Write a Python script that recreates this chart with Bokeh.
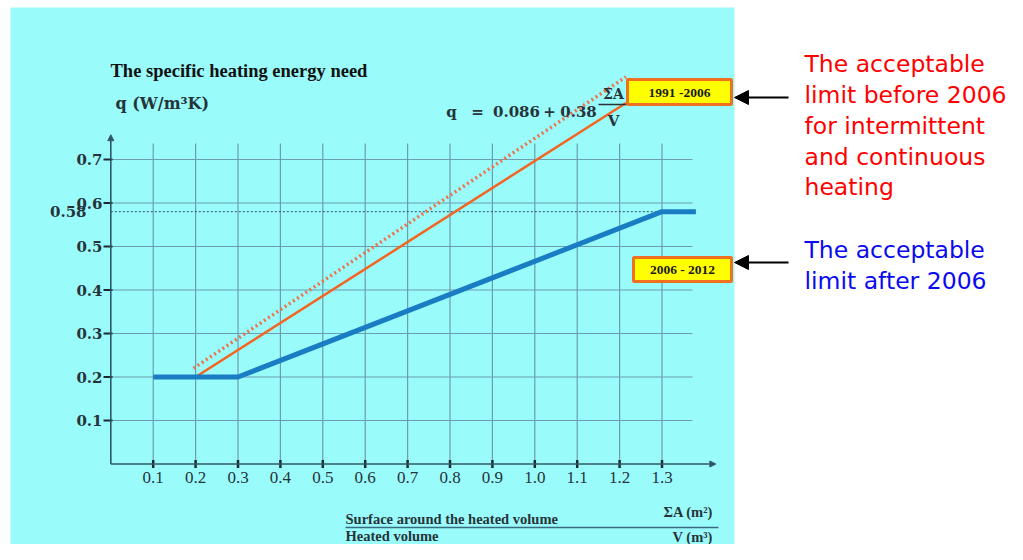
from bokeh.plotting import figure
from bokeh.models import Range1d, Arrow, NormalHead
from bokeh.core.properties import value
from bokeh.embed import file_html
from bokeh.resources import INLINE

# ---------------- data ----------------
x_ticks = [0.1, 0.2, 0.3, 0.4, 0.5, 0.6, 0.7, 0.8, 0.9, 1.0, 1.1, 1.2, 1.3]
x_tick_labels = ["0.1", "0.2", "0.3", "0.4", "0.5", "0.6", "0.7", "0.8", "0.9",
                 "1.0", "1.1", "1.2", "1.3"]
y_ticks = [0.1, 0.2, 0.3, 0.4, 0.5, 0.6, 0.7]
y_tick_labels = ["0.1", "0.2", "0.3", "0.4", "0.5", "0.6", "0.7"]

# limit 1991-2006 (solid and dotted orange lines)
before_x = [0.2, 1.215]
before_y = [0.2, 0.83]
before_dotted_x = [0.195, 1.215]
before_dotted_y = [0.22, 0.89]

# limit 2006-2012 (blue line)
after_x = [0.1, 0.3, 1.3, 1.38]
after_y = [0.2, 0.2, 0.58, 0.58]

ref_level = 0.58
ref_label = "0.58"

equation_parts = ["q", "=", "0.086", "+", "0.38"]

# ---------------- layout helpers ----------------
W, H = 1007, 544
X0, SX = 110.3, 424.0   # canvas px of x=0, px per unit
Y0, SY = 463.5, 435.0   # canvas px of y=0, px per unit


def dx(px):
    return (px - X0) / SX


def dy(py):
    return (Y0 - py) / SY


CYAN = "#9AFBFB"
GRID = "#6C9DB0"
AXIS = "#2F5866"
TXT = "#26343A"
SERIF = value("Liberation Serif")
WSERIF = value("DejaVu Serif")

p = figure(width=W, height=H,
           x_range=Range1d(dx(0), dx(W)),
           y_range=Range1d(dy(H), dy(0)),
           output_backend="svg", toolbar_location=None,
           x_axis_location=None, y_axis_location=None,
           min_border=0, outline_line_color=None,
           background_fill_color="white", border_fill_color="white")
p.xgrid.grid_line_color = None
p.ygrid.grid_line_color = None

# cyan panel
p.quad(left=dx(10), right=dx(734), top=dy(7), bottom=dy(H),
       fill_color=CYAN, line_color=None)

# grid
n = len(x_ticks)
p.segment(x0=x_ticks, y0=[0] * n, x1=x_ticks, y1=[0.737] * n,
          line_color=GRID, line_width=1.2)
m = len(y_ticks)
p.segment(x0=[0] * m, y0=y_ticks, x1=[1.372] * m, y1=y_ticks,
          line_color=GRID, line_width=1.2)

# reference dotted level
p.segment(x0=[0], y0=[ref_level], x1=[1.3], y1=[ref_level],
          line_color="#2E4A6A", line_width=1, line_dash="2 2")

# axes with arrows
p.add_layout(Arrow(end=NormalHead(size=6, fill_color=AXIS, line_color=AXIS),
                   x_start=0, y_start=0, x_end=0, y_end=0.757,
                   line_color=AXIS, line_width=1.6))
p.add_layout(Arrow(end=NormalHead(size=6, fill_color=AXIS, line_color=AXIS),
                   x_start=0, y_start=0, x_end=1.427, y_end=0,
                   line_color=AXIS, line_width=1.6))

# ticks
p.segment(x0=x_ticks, y0=[dy(Y0 + 4)] * n, x1=x_ticks, y1=[dy(Y0 - 4)] * n,
          line_color="#1E2A30", line_width=2.5)
p.segment(x0=[dx(103)] * m, y0=y_ticks, x1=[dx(112)] * m, y1=y_ticks,
          line_color="#1E2A30", line_width=2.2)

# tick labels
p.text(x=x_ticks, y=[dy(477)] * n, text=x_tick_labels,
       text_font=SERIF, text_font_size="17px",
       text_color=TXT, text_align="center", text_baseline="middle")
p.text(x=[dx(102)] * m, y=y_ticks, text=y_tick_labels,
       text_font=WSERIF, text_font_style="bold", text_font_size="15px",
       text_color=TXT, text_align="right", text_baseline="middle")
p.text(x=[dx(86)], y=[ref_level], text=[ref_label],
       text_font=WSERIF, text_font_style="bold", text_font_size="15px",
       text_color=TXT, text_align="right", text_baseline="middle")

# data lines
p.line(before_dotted_x, before_dotted_y, line_color="#F0704A",
       line_width=3.5, line_dash="2 3")
p.line(before_x, before_y, line_color="#F26522", line_width=2.5)
p.line(after_x, after_y, line_color="#1A7DC4", line_width=5)

# title and y label
p.text(x=[dx(110)], y=[dy(70)], text=["The specific heating energy need"],
       text_font=SERIF, text_font_style="bold", text_font_size="18.5px",
       text_color="#111111", text_align="left", text_baseline="middle")
p.text(x=[dx(115)], y=[dy(103)], text=["q (W/m³K)"],
       text_font=WSERIF, text_font_style="bold", text_font_size="16px",
       text_color=TXT, text_align="left", text_baseline="middle")

# equation
p.text(x=[dx(v) for v in (451, 477, 516, 549, 578)], y=[dy(111)] * 5,
       text=equation_parts,
       text_font=WSERIF, text_font_style="bold", text_font_size="15px",
       text_color=TXT, text_align="center", text_baseline="middle")
p.text(x=[dx(613)], y=[dy(93)], text=["ΣA"],
       text_font=WSERIF, text_font_style="bold", text_font_size="14px",
       text_color=TXT, text_align="center", text_baseline="middle")
p.text(x=[dx(613)], y=[dy(120)], text=["V"],
       text_font=WSERIF, text_font_style="bold", text_font_size="15px",
       text_color=TXT, text_align="center", text_baseline="middle")
p.segment(x0=[dx(598)], y0=[dy(104)], x1=[dx(630)], y1=[dy(104)],
          line_color=TXT, line_width=1.3)

# yellow period boxes
p.quad(left=[dx(627), dx(633)], right=[dx(731), dx(731)],
       top=[dy(79), dy(257)], bottom=[dy(104), dy(281)],
       fill_color="#FFFF00", line_color="#F07020", line_width=3)
p.text(x=[dx(679), dx(682)], y=[dy(92), dy(269)],
       text=["1991 -2006", "2006 - 2012"],
       text_font=SERIF, text_font_style="bold", text_font_size="13.5px",
       text_color="#1A1A1A", text_align="center", text_baseline="middle")

# bottom axis fraction label
p.segment(x0=[dx(345)], y0=[dy(527)], x1=[dx(718)], y1=[dy(527)],
          line_color="#3A6A80", line_width=1.5)
p.text(x=[dx(345), dx(345)], y=[dy(518), dy(535)],
       text=["Surface around the heated volume", "Heated volume"],
       text_font=SERIF, text_font_style="bold", text_font_size="14.5px",
       text_color=TXT, text_align="left", text_baseline="middle")
p.text(x=[dx(663), dx(672)], y=[dy(511), dy(536)],
       text=["ΣA (m²)", "V  (m³)"],
       text_font=SERIF, text_font_style="bold", text_font_size="14.5px",
       text_color=TXT, text_align="left", text_baseline="middle")

# pointer arrows
for yy in (97, 262):
    p.add_layout(Arrow(end=NormalHead(size=14, fill_color="black", line_color="black"),
                       x_start=dx(788), y_start=dy(yy), x_end=dx(734), y_end=dy(yy),
                       line_color="black", line_width=2))

# right annotations
red_lines = ["The acceptable", "limit before 2006", "for intermittent",
             "and continuous", "heating"]
red_y = [63, 94, 125, 156, 186]
p.text(x=[dx(804)] * len(red_lines), y=[dy(v) for v in red_y], text=red_lines,
       text_font=value("DejaVu Sans"), text_font_size="23.5px",
       text_color="#FF0000", text_align="left", text_baseline="middle")
blue_lines = ["The acceptable", "limit after 2006"]
blue_y = [249, 280]
p.text(x=[dx(804)] * len(blue_lines), y=[dy(v) for v in blue_y], text=blue_lines,
       text_font=value("DejaVu Sans"), text_font_size="23.5px",
       text_color="#0A0AF0", text_align="left", text_baseline="middle")

open("out.html", "w").write(file_html(p, INLINE))
